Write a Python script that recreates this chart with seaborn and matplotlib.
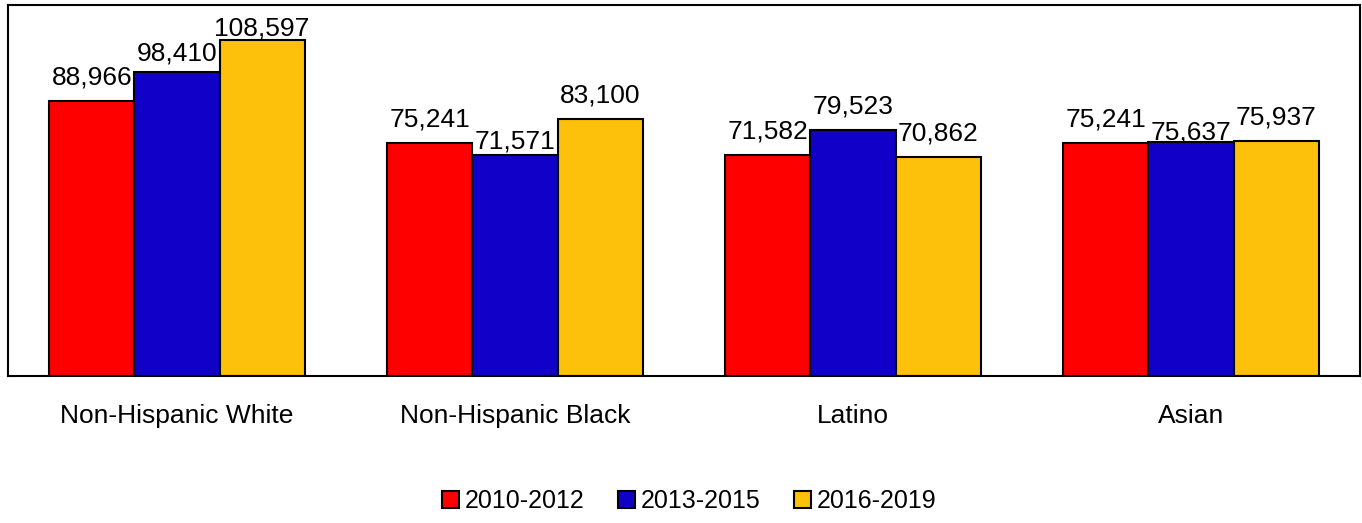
import matplotlib
matplotlib.use("Agg")
import matplotlib.pyplot as plt
import seaborn as sns
import pandas as pd

# Median household income by race/ethnicity and period
groups = ["Non-Hispanic White", "Non-Hispanic Black", "Latino", "Asian"]
periods = ["2010-2012", "2013-2015", "2016-2019"]
income_2010_2012 = [88966, 75241, 71582, 75241]
income_2013_2015 = [98410, 71571, 79523, 75637]
income_2016_2019 = [108597, 83100, 70862, 75937]

colors = ["#FF0000", "#1000C8", "#FDC00B"]

df = pd.DataFrame({
    "group": groups * 3,
    "period": [p for p in periods for _ in groups],
    "income": income_2010_2012 + income_2013_2015 + income_2016_2019,
})

sns.set_theme(style="white")
plt.rcParams["font.family"] = ["Liberation Sans", "DejaVu Sans"]
plt.rcParams["text.color"] = "black"
plt.rcParams["xtick.color"] = "black"
plt.rcParams["xtick.labelcolor"] = "black"

fig = plt.figure(figsize=(13.62, 5.23), dpi=100)
ax = fig.add_axes([8 / 1362, 1 - 376 / 523, 1352 / 1362, 371 / 523])

sns.barplot(data=df, x="group", y="income", hue="period", order=groups,
            hue_order=periods, palette=colors, width=0.755, saturation=1,
            edgecolor="black", linewidth=1.5, ax=ax, legend=True)

ax.set_ylim(0, 120000)
ax.set_xlim(-0.5, 3.5)
ax.set_xlabel("")
ax.set_ylabel("")
ax.set_yticks([])
ax.tick_params(axis="x", length=0, pad=20, labelsize=19, labelcolor="black")
for s in ax.spines.values():
    s.set_visible(True)
    s.set_color("black")
    s.set_linewidth(1.5)

# Label offsets above bar tops (points); a few are tucked lower to avoid crowding
label_offset = {(0, 1): 8, (0, 2): 3.6, (1, 1): 4.3, (3, 1): 2}
for si, cont in enumerate(ax.containers):
    for gi, bar in enumerate(cont):
        h = bar.get_height()
        off = label_offset.get((gi, si), 12)
        ax.annotate(f"{h:,.0f}", (bar.get_x() + bar.get_width() / 2, h),
                    xytext=(0, off), textcoords="offset points",
                    ha="center", va="baseline", fontsize=19, color="black")

ax.legend_.remove()
handles = [plt.Rectangle((0, 0), 1, 1, facecolor=c, edgecolor="black", linewidth=1.5)
           for c in colors]
fig.legend(handles, periods, loc="center", bbox_to_anchor=(689 / 1362, 1 - 501 / 523),
           ncol=3, frameon=False, fontsize=18, handlelength=0.7, handleheight=0.7,
           handletextpad=0.2, columnspacing=1.35, labelcolor="black")

fig.savefig("out.png", dpi=100)
